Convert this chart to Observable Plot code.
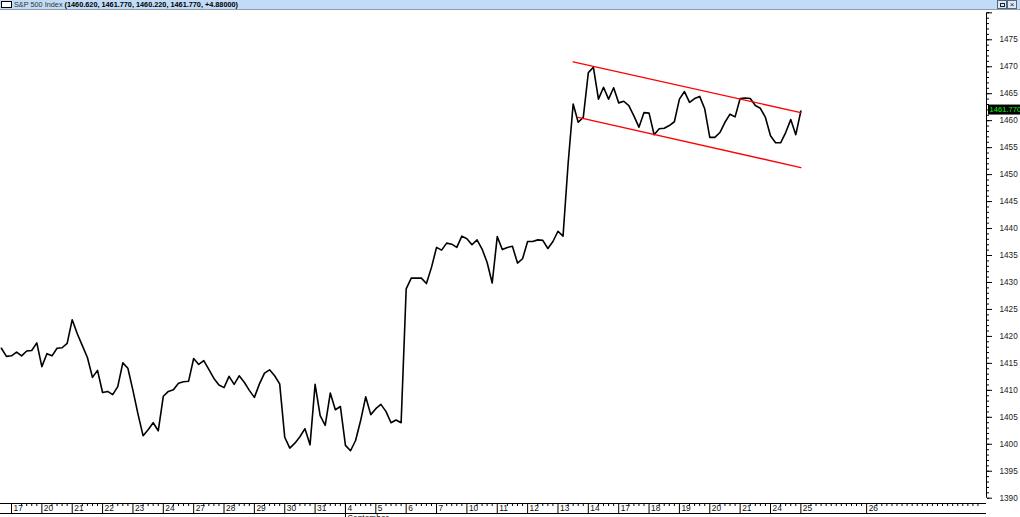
<!DOCTYPE html>
<html>
<head>
<meta charset="utf-8">
<script src="https://cdn.jsdelivr.net/npm/d3@7"></script>
<script src="https://cdn.jsdelivr.net/npm/@observablehq/plot@0.6"></script>
<style>
  html, body { margin: 0; padding: 0; background: #fff; }
  body { width: 1020px; height: 517px; overflow: hidden; font-family: "Liberation Sans", Arial, sans-serif; }
  #titlebar { position: relative; height: 9px; border-bottom: 1px solid #8d9cb2; background: #c2dbf6; white-space: nowrap; }
  #titlebar .icon { position: absolute; left: 1px; top: 1px; width: 9px; height: 5px; border: 1px solid #000; background: #fff; }
  #titlebar .txt { position: absolute; left: 14px; top: 0; font-size: 7.3px; line-height: 9px; color: #333; }
  #titlebar .txt b { color: #000; font-weight: bold; }
  #titlebar .btn { position: absolute; top: 0; width: 8px; height: 7px; border: 1px solid #56667e; background: #dbe8f8; font-size: 8px; line-height: 7px; text-align: center; color: #222; }
  #titlebar .btn .inner { position: absolute; left: 2px; top: 2px; width: 3px; height: 2px; border: 1px solid #222; }
  #chart svg { display: block; }
</style>
</head>
<body>
<div id="titlebar">
  <div class="icon"></div>
  <div class="txt">S&amp;P 500 Index <b>(1460.620, 1461.770, 1460.220, 1461.770, +4.88000)</b></div>
  <div class="btn" style="left:997px"><div class="inner"></div></div>
  <div class="btn" style="left:1007px">×</div>
</div>
<div id="chart"></div>
<script>
// ---- data (hourly closes, bar index 0 = first bar of Aug 17) ----
const firstBar = -2;
const closes = [
  1417.8, 1416.3,
  1416.4, 1417.1, 1416.4, 1417.3, 1417.4, 1418.8,
  1414.4, 1416.8, 1416.4, 1417.8, 1417.9, 1418.7,
  1423.1, 1420.5, 1418.3, 1416.1, 1412.4, 1413.7,
  1409.6, 1409.8, 1409.2, 1410.7, 1415.1, 1414.1,
  1410.0, 1405.6, 1401.6, 1402.7, 1404.0, 1402.5,
  1408.9, 1409.8, 1410.1, 1411.3, 1411.6, 1411.7,
  1415.9, 1414.8, 1415.5, 1413.9, 1412.2, 1411.0,
  1410.5, 1412.6, 1411.1, 1412.7, 1411.5, 1410.0,
  1408.7, 1411.2, 1413.2, 1413.8, 1412.7, 1411.2,
  1401.3, 1399.3, 1400.2, 1401.4, 1402.9, 1399.9,
  1411.1, 1405.3, 1403.5, 1409.5, 1406.4, 1407.0,
  1399.8, 1398.8, 1400.7, 1404.4, 1408.8, 1405.5,
  1406.6, 1407.4, 1406.1, 1404.0, 1404.5, 1404.0,
  1428.8, 1430.8, 1430.8, 1430.8, 1429.8, 1432.8,
  1436.5, 1436.0, 1437.3, 1437.1, 1436.5, 1438.6,
  1438.1, 1437.0, 1437.9, 1436.2, 1433.7, 1429.9,
  1438.5, 1436.1, 1436.5, 1436.7, 1433.6, 1434.4,
  1437.6, 1437.6, 1437.9, 1437.8, 1436.3, 1437.6,
  1439.5, 1438.6, 1452.0, 1463.1, 1459.7, 1460.6,
  1468.9, 1469.9, 1464.0, 1466.2, 1464.0, 1466.1,
  1463.3, 1463.6, 1462.8, 1460.9, 1458.8, 1461.5,
  1461.4, 1457.4, 1458.5, 1458.6, 1459.1, 1459.8,
  1464.0, 1465.4, 1463.4, 1464.1, 1464.5, 1462.2,
  1456.9, 1456.9, 1457.8, 1459.7, 1461.2, 1460.7,
  1464.1, 1464.2, 1464.1, 1462.8, 1462.3, 1460.6,
  1457.2, 1455.9, 1455.9, 1457.8, 1460.2, 1457.4,
  1461.77
];
const lastPrice = 1461.77;

// channel (trend lines)
const upperBars = [111, 156];
const upperValues = [1470.9, 1461.5];
const lowerBars = [112, 156];
const lowerValues = [1460.6, 1451.3];

// date axis
const dayLabels = ["17","20","21","22","23","24","27","28","29","30","31","4","5","6","7","10","11","12","13","14","17","18","19","20","21","24","25","26"];
const dayBars = [0,6,12,18,24,30,36,42,48,54,60,66,72,78,84,90,96,102,108,114,120,126,132,138,144,150,156,169];
const monthLabel = "September";
const monthBar = 66;

// price axis
const priceTicks = d3.range(1390, 1481, 5);
const priceMinorTicks = d3.range(1390, 1481, 1);

// ---- layout ----
const W = 1020, H = 507;
const barPx = 5.06, firstDayX = 11, axisX = 986;
const xLo = -firstDayX / barPx, xHi = (axisX - firstDayX) / barPx;
const yLo = 1389.02, yHi = 1480;

const series = closes.map((v, i) => ({bar: firstBar + i, value: v}));
const upper = upperBars.map((b, i) => ({bar: b, value: upperValues[i]}));
const lower = lowerBars.map((b, i) => ({bar: b, value: lowerValues[i]}));
const days = dayLabels.map((d, i) => ({label: d, bar: dayBars[i]}));

const minorBars = [];
for (let i = 0; i < dayBars.length; i++) {
  const s = dayBars[i];
  const e = i + 1 < dayBars.length ? dayBars[i + 1] : Math.floor(xHi);
  for (let b = s + 2; b < e; b++) minorBars.push(b);
}

const plot = Plot.plot({
  width: W, height: H,
  marginLeft: 0, marginRight: W - axisX, marginTop: 2.3, marginBottom: 14,
  x: {type: "linear", domain: [xLo, xHi], label: null},
  y: {type: "linear", domain: [yLo, yHi], label: null},
  style: {fontFamily: "Liberation Sans, Arial, sans-serif", color: "#000", background: "#fff"},
  marks: [
    // price axis line + ticks
    Plot.ruleX([xHi], {y1: 1390, y2: yHi, stroke: "#000"}),
    Plot.axisY({anchor: "right", label: null, ticks: priceMinorTicks, tickSize: 2, tickFormat: () => "", stroke: "#000"}),
    Plot.axisY({anchor: "right", label: null, ticks: priceTicks, tickSize: 5, tickPadding: 8,
      tickFormat: d => d === 1480 ? "" : String(d), fontSize: 8.2, fill: "#222", stroke: "#000"}),
    // date axis lines
    Plot.ruleY([yLo], {x1: xLo, x2: xHi, stroke: "#000"}),
    Plot.ruleY([yLo], {x1: xLo, x2: xHi, stroke: "#000", dy: 10}),
    Plot.axisX({anchor: "bottom", label: null, ticks: minorBars, tickSize: 3, tickFormat: () => "", stroke: "#000"}),
    Plot.axisX({anchor: "bottom", label: null, ticks: dayBars, tickSize: 10, tickFormat: () => "", stroke: "#000"}),
    Plot.axisX({anchor: "bottom", label: null, ticks: [monthBar], tickSize: 14, tickFormat: () => "", stroke: "#000"}),
    Plot.text(days, {x: "bar", y: () => yLo, text: "label", textAnchor: "start", lineAnchor: "top",
      dx: 2, dy: 1.5, fontSize: 8.4, fill: "#111"}),
    Plot.text([monthLabel], {x: () => monthBar, y: () => yLo, text: d => d, textAnchor: "start", lineAnchor: "top",
      dx: 2, dy: 11.5, fontSize: 8.4, fill: "#111"}),
    // price series
    Plot.line(series, {x: "bar", y: "value", stroke: "#000", strokeWidth: 1.6, clip: true}),
    // channel
    Plot.line(upper, {x: "bar", y: "value", stroke: "#ff0000", strokeWidth: 1.4}),
    Plot.line(lower, {x: "bar", y: "value", stroke: "#ff0000", strokeWidth: 1.4}),
    // last price label
    Plot.text([lastPrice], {x: () => xHi, y: d => d, text: d => d.toFixed(3), textAnchor: "start",
      dx: 3, dy: -1.5, fontSize: 7.6, fill: "#00ff00"})
  ]
});
document.getElementById("chart").appendChild(plot);

// black background box behind the last-price label
d3.select(plot).selectAll("text").each(function() {
  if (this.textContent === lastPrice.toFixed(3)) {
    const bb = this.getBBox();
    const g = this.parentNode;
    const tr = this.getAttribute("transform");
    const r = document.createElementNS("http://www.w3.org/2000/svg", "rect");
    r.setAttribute("x", bb.x - 1.5);
    r.setAttribute("y", bb.y - 0.5);
    r.setAttribute("width", bb.width + 3);
    r.setAttribute("height", bb.height + 1);
    r.setAttribute("fill", "#000");
    if (tr) r.setAttribute("transform", tr);
    g.insertBefore(r, this);
  }
});
</script>
</body>
</html>
